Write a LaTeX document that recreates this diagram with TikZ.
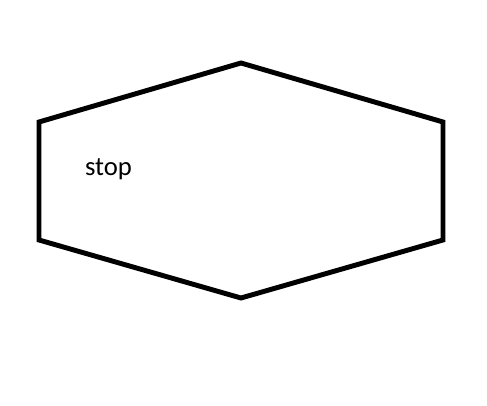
\documentclass[tikz,border=0pt]{standalone}
\usepackage{fontspec}
\setmainfont{Carlito}
\begin{document}
\begin{tikzpicture}[x=0.75pt,y=-0.75pt,
  hexline/.style={line width=3.7pt,line join=miter,black},
  label/.style={font=\fontsize{20}{22}\selectfont,inner sep=0pt}]
\useasboundingbox (0,0) rectangle (487,406);
\coordinate (t) at (241,63);
\coordinate (ur) at (443,122);
\coordinate (lr) at (443,240);
\coordinate (b) at (241,298);
\coordinate (ll) at (39,240);
\coordinate (ul) at (39,122);
\draw[hexline] (t) -- (ur) -- (lr) -- (b) -- (ll) -- (ul) -- cycle;
\node[label] (stop) at (108.5,169.5) {stop};
\end{tikzpicture}
\end{document}
